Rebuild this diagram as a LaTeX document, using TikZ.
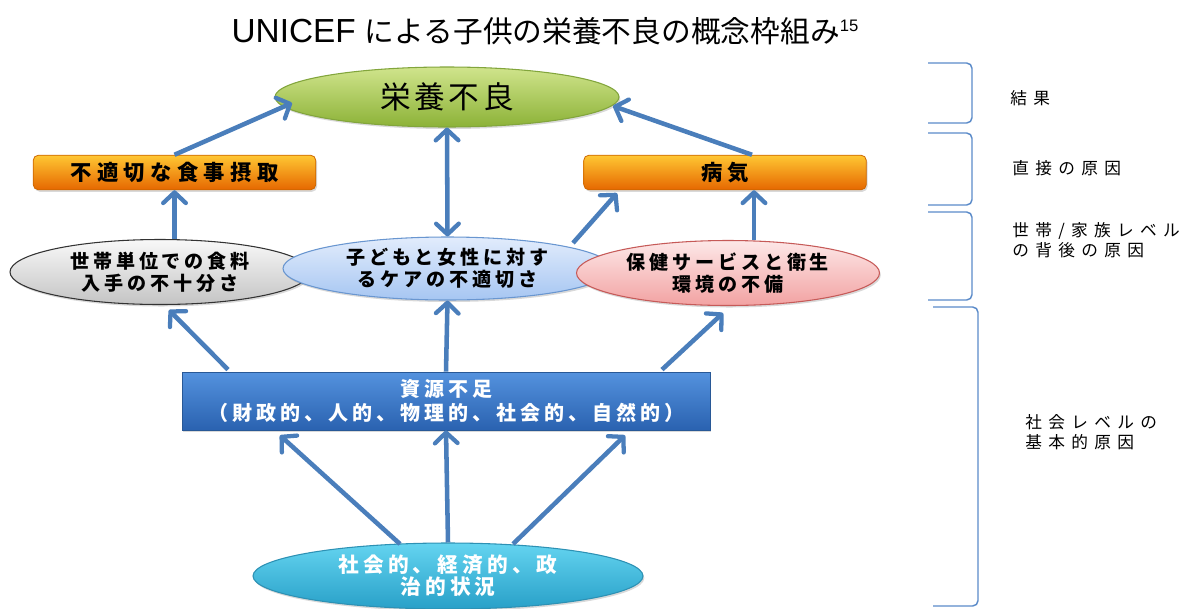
\documentclass[tikz,border=0pt]{standalone}
\usepackage{fontspec}
\setmainfont{Liberation Sans}
\newfontfamily\jp{Noto Sans CJK JP}
\newfontfamily\jpa{Noto Sans CJK JP}[LetterSpace=12]
\newfontfamily\jpb{Noto Sans CJK JP}[LetterSpace=20]
\newfontfamily\jpc{Noto Sans CJK JP}[LetterSpace=25]
\newfontfamily\jpl{Noto Sans CJK JP}[LetterSpace=38]
\usetikzlibrary{arrows.meta,calc,shadows,shapes.geometric}
\definecolor{arrowblue}{HTML}{4A7EBB}
\definecolor{brk}{HTML}{5B8BC9}
\begin{document}
\begin{tikzpicture}[x=0.75pt,y=-0.75pt,
  shd/.style={drop shadow={opacity=0.3,shadow xshift=1pt,shadow yshift=-1.5pt}},
  ell/.style={ellipse,inner sep=0pt,align=center,line width=0.8pt,shd},
  obox/.style={rectangle,rounded corners=4pt,inner sep=0pt,minimum width=212pt,minimum height=26pt,
    top color=orange!55!yellow!80!white,bottom color=orange!90!red!90!black,draw=orange!80!black,line width=0.6pt,shd,
    font={\jpc\bfseries\fontsize{16}{18}\selectfont}},
  efont/.style={font={\jpb\bfseries\fontsize{14.3}{16.5}\selectfont}},
  conn/.style={draw=arrowblue,line width=3.4pt,-{Straight Barb[length=8pt,width=17pt,line width=3.2pt,round]}},
  dconn/.style={draw=arrowblue,line width=3.4pt,{Straight Barb[length=8pt,width=17pt,line width=3.2pt,round]}-{Straight Barb[length=8pt,width=17pt,line width=3.2pt,round]}},
  lbl/.style={anchor=west,align=left,inner sep=0pt,font={\jpl\fontsize{12.5}{15}\selectfont}},
  brace/.style={draw=brk,line width=1.1pt,rounded corners=4pt}]
\useasboundingbox (0,0) rectangle (1182,608);

% title
\node (title) at (545,31) {\fontsize{25}{29}\selectfont UNICEF {\jp\fontsize{22.3}{26}\selectfont による子供の栄養不良の概念枠組み}\raisebox{8pt}{\fontsize{12.5}{12.5}\selectfont 15}};

% top result
\node[ell,minimum width=258pt,minimum height=45pt,top color={rgb,255:red,208;green,228;blue,140},bottom color={rgb,255:red,140;green,178;blue,55},draw={rgb,255:red,130;green,165;blue,60},
  font={\jpa\fontsize{23}{26}\selectfont}] (green) at (447,97) {栄養不良};

% immediate causes
\node[obox] (lbox) at (174.5,172.5) {不適切な食事摂取};
\node[obox] (rbox) at (725,172.5) {病気};

% underlying causes
\node[ell,efont,minimum width=225pt,minimum height=48.75pt,top color={rgb,255:red,248;green,248;blue,248},bottom color={rgb,255:red,196;green,196;blue,196},draw=black!80] (gray) at (160,272) {世帯単位での食料\\入手の不十分さ};
\node[ell,efont,minimum width=246.75pt,minimum height=47.25pt,top color={rgb,255:red,226;green,236;blue,252},bottom color={rgb,255:red,166;green,198;blue,242},draw={rgb,255:red,105;green,150;blue,208}] (bell) at (447.5,268.5) {子どもと女性に対す\\るケアの不適切さ};
\node[ell,efont,minimum width=227.25pt,minimum height=48.75pt,top color={rgb,255:red,253;green,232;blue,232},bottom color={rgb,255:red,242;green,162;blue,162},draw={rgb,255:red,198;green,90;blue,88}] (pink) at (728,273) {保健サービスと衛生\\環境の不備};

% basic causes
\node[rectangle,inner sep=0pt,align=center,minimum width=396pt,minimum height=43.5pt,shd,
  top color={rgb,255:red,84;green,146;blue,222},bottom color={rgb,255:red,42;green,98;blue,176},draw={rgb,255:red,40;green,88;blue,150},line width=0.6pt,
  text=white,font={\jpb\bfseries\fontsize{15}{17.3}\selectfont}] (rect) at (446,401) {資源不足\\（財政的、人的、物理的、社会的、自然的）};
\node[ell,minimum width=292.5pt,minimum height=49.5pt,top color={rgb,255:red,100;green,212;blue,240},bottom color={rgb,255:red,40;green,160;blue,200},draw={rgb,255:red,45;green,145;blue,180},
  text=white,font={\jpb\bfseries\fontsize{15.5}{16.5}\selectfont}] (bot) at (448,576) {社会的、経済的、政\\治的状況};

% connectors
\draw[conn] (lbox.north) -- ($(green.center)+(-155,6)$);
\draw[dconn] (green.south) -- (bell.north);
\draw[conn] ($(rbox.north)+(27,0)$) -- ($(green.center)+(166,9)$);
\draw[conn] (gray.north -| lbox.south) -- (lbox.south);
\draw[conn] ($(bell.center)+(125.5,-25.5)$) -- ($(rbox.south)+(-108,3)$);
\coordinate (rs) at ($(rbox.south)+(29,0)$);
\draw[conn] (pink.north -| rs) -- (rs);
\draw[conn] ($(rect.north)+(-218,-2)$) -- ($(gray.center)+(9,38)$);
\draw[conn] (rect.north) -- (bell.south);
\draw[conn] ($(rect.north)+(216,-2)$) -- ($(pink.center)+(-5,40)$);
\draw[conn] ($(bot.center)+(-48,-32)$) -- ($(rect.south)+(-166,5)$);
\draw[conn] (bot.north) -- (rect.south);
\draw[conn] ($(bot.center)+(65,-32)$) -- ($(rect.south)+(179,5)$);

% brackets
\draw[brace] (928,63) -- (972,63) -- (972,123) -- (928,123);
\draw[brace] (928,133) -- (972,133) -- (972,205) -- (928,205);
\draw[brace] (928,212) -- (972,212) -- (972,300) -- (928,300);
\draw[brace] (933,307) -- (978,307) -- (978,606) -- (933,606);

% level labels
\node[lbl] (l1) at (1010,98) {結果};
\node[lbl] (l2) at (1012,168) {直接の原因};
\node[lbl] (l3) at (1012,240) {世帯/家族レベル\\の背後の原因};
\node[lbl] (l4) at (1025,432) {社会レベルの\\基本的原因};
\end{tikzpicture}
\end{document}
